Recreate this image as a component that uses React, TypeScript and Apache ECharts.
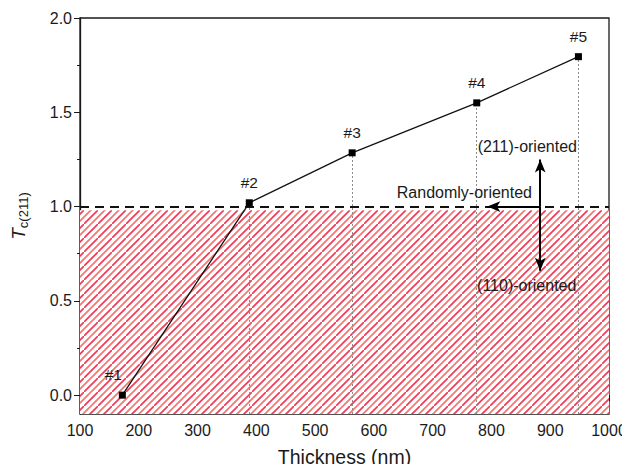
import React, { useEffect, useRef } from "react";
import * as echarts from "echarts";

const thickness = [172, 388, 563, 775, 948];
const tc = [0.0, 1.02, 1.285, 1.55, 1.795];
const sampleLabels = ["#1", "#2", "#3", "#4", "#5"];
const yTickLabels = [0.0, 0.5, 1.0, 1.5, 2.0];
const yMinorTicks = [0.25, 0.75, 1.25, 1.75];
const randomLevel = 1.0;
const hatchTop = 0.98;
const arrowX = 883;
const arrowUpY = 1.25;
const arrowDownY = 0.66;
const arrowLeftX = 793;
const annotations = [
  { text: "(211)-oriented", x: 861, y: 1.316 },
  { text: "Randomly-oriented", x: 754, y: 1.074 },
  { text: "(110)-oriented", x: 860, y: 0.579 },
];

const FONT = "'Liberation Sans', Arial, Helvetica, sans-serif";

function makeHatch(): HTMLCanvasElement {
  const c = document.createElement("canvas");
  const s = 14;
  c.width = s;
  c.height = s;
  const ctx = c.getContext("2d")!;
  ctx.fillStyle = "#ffffff";
  ctx.fillRect(0, 0, s, s);
  ctx.lineWidth = 1.7;
  const seg = (x1: number, y1: number, x2: number, y2: number, col: string) => {
    ctx.strokeStyle = col;
    ctx.beginPath();
    ctx.moveTo(x1, y1);
    ctx.lineTo(x2, y2);
    ctx.stroke();
  };
  const red = "#ee3a5c";
  const orange = "#f3776a";
  seg(-2, s + 2, s + 2, -2, red);
  seg(-2, s / 2 + 2, s / 2 + 2, -2, orange);
  seg(s / 2 - 2, s + 2, s + 2, s / 2 - 2, orange);
  return c;
}

export default function App() {
  const ref = useRef<HTMLDivElement>(null);
  useEffect(() => {
    if (!ref.current) return;
    const chart = echarts.init(ref.current, null, { renderer: "svg" });
    const pts = thickness.map((x, i) => [x, tc[i]]);
    const hatch = makeHatch();
    const option: any = {
      animation: false,
      backgroundColor: "#ffffff",
      grid: {
        left: 80,
        right: 21,
        top: 18,
        bottom: 56,
        show: true,
        borderColor: "#1a1a1a",
        borderWidth: 1.3,
        backgroundColor: "transparent",
      },
      xAxis: {
        type: "value",
        min: 100,
        max: 1000,
        interval: 100,
        name: "Thickness (nm)",
        nameLocation: "middle",
        nameGap: 33,
        nameTextStyle: { fontFamily: FONT, fontSize: 19.5, color: "#1a1a1a" },
        axisLine: { show: true, lineStyle: { color: "#1a1a1a", width: 1.3 } },
        axisTick: { show: true, length: 6, lineStyle: { color: "#1a1a1a" } },
        minorTick: { show: true, splitNumber: 2, length: 3, lineStyle: { color: "#1a1a1a" } },
        splitLine: { show: false },
        axisLabel: {
          fontFamily: FONT,
          fontSize: 16,
          color: "#1a1a1a",
          margin: 8,
          formatter: (v: number) => String(v),
        },
      },
      yAxis: [
        {
          type: "value",
          min: -0.1,
          max: 2.0,
          name: "{i|T}{s|c(211)}",
          nameLocation: "middle",
          nameGap: 50,
          nameRotate: 90,
          nameTextStyle: {
            rich: {
              i: { fontFamily: FONT, fontSize: 19, fontStyle: "italic", color: "#1a1a1a" },
              s: { fontFamily: FONT, fontSize: 13, color: "#1a1a1a", padding: [10, 0, 0, 0] },
            },
          },
          axisLine: { show: true, lineStyle: { color: "#1a1a1a", width: 1.3 } },
          axisTick: { show: true, length: 6, customValues: yTickLabels, lineStyle: { color: "#1a1a1a" } },
          splitLine: { show: false },
          axisLabel: {
            fontFamily: FONT,
            fontSize: 16,
            color: "#1a1a1a",
            margin: 8,
            customValues: yTickLabels,
            formatter: (v: number) => v.toFixed(1),
          },
        },
        {
          type: "value",
          min: -0.1,
          max: 2.0,
          position: "left",
          axisLine: { show: false },
          axisTick: { show: true, length: 3, customValues: yMinorTicks, lineStyle: { color: "#1a1a1a" } },
          axisLabel: { show: false, customValues: yMinorTicks },
          splitLine: { show: false },
        },
      ],
      series: [
        {
          type: "line",
          data: [],
          silent: true,
          markArea: {
            silent: true,
            itemStyle: { color: { image: hatch, repeat: "repeat" }, opacity: 1 },
            data: [[{ coord: [100, -0.1] }, { coord: [1000, hatchTop] }]],
          },
          markLine: {
            silent: true,
            symbol: ["none", "none"],
            label: { show: false },
            data: [
              ...pts.slice(1).map((p) => [
                { coord: [p[0], -0.1], lineStyle: { type: [2, 2], color: "#8a8a8a", width: 1 } },
                { coord: [p[0], p[1]] },
              ]),
              [
                { coord: [100, randomLevel], lineStyle: { type: [9, 6], color: "#111", width: 2.2 } },
                { coord: [1000, randomLevel] },
              ],
            ],
          },
        },
        {
          type: "line",
          data: pts,
          symbol: "rect",
          symbolSize: 7,
          itemStyle: { color: "#000" },
          lineStyle: { color: "#111", width: 1.3 },
          label: {
            show: true,
            position: "top",
            distance: 9,
            fontFamily: FONT,
            fontSize: 15.5,
            color: "#1a1a1a",
            formatter: (p: any) => sampleLabels[p.dataIndex],
          },
          labelLayout: (p: any) => (p.dataIndex === 0 ? { dx: -9, dy: 0 } : {}),
          z: 5,
        },
        {
          type: "line",
          data: [],
          markLine: {
            silent: true,
            symbol: ["none", "arrow"],
            symbolSize: [8, 13],
            label: { show: false },
            lineStyle: { type: "solid", color: "#000", width: 2 },
            data: [
              [{ coord: [arrowX, randomLevel] }, { coord: [arrowX, arrowUpY] }],
              [{ coord: [arrowX, randomLevel] }, { coord: [arrowX, arrowDownY] }],
              [{ coord: [arrowX, randomLevel] }, { coord: [arrowLeftX, randomLevel] }],
            ],
          },
          markPoint: {
            silent: true,
            symbol: "circle",
            symbolSize: 0,
            itemStyle: { color: "#1a1a1a" },
            label: {
              show: true,
              position: "inside",
              fontFamily: FONT,
              fontSize: 16,
              color: "#1a1a1a",
              formatter: (p: any) => p.name,
            },
            data: annotations.map((a) => ({ name: a.text, coord: [a.x, a.y] })),
          },
          z: 6,
        },
      ],
    };
    chart.setOption(option);
    return () => chart.dispose();
  }, []);
  return <div ref={ref} style={{ width: 630, height: 472, margin: -8 }} />;
}
